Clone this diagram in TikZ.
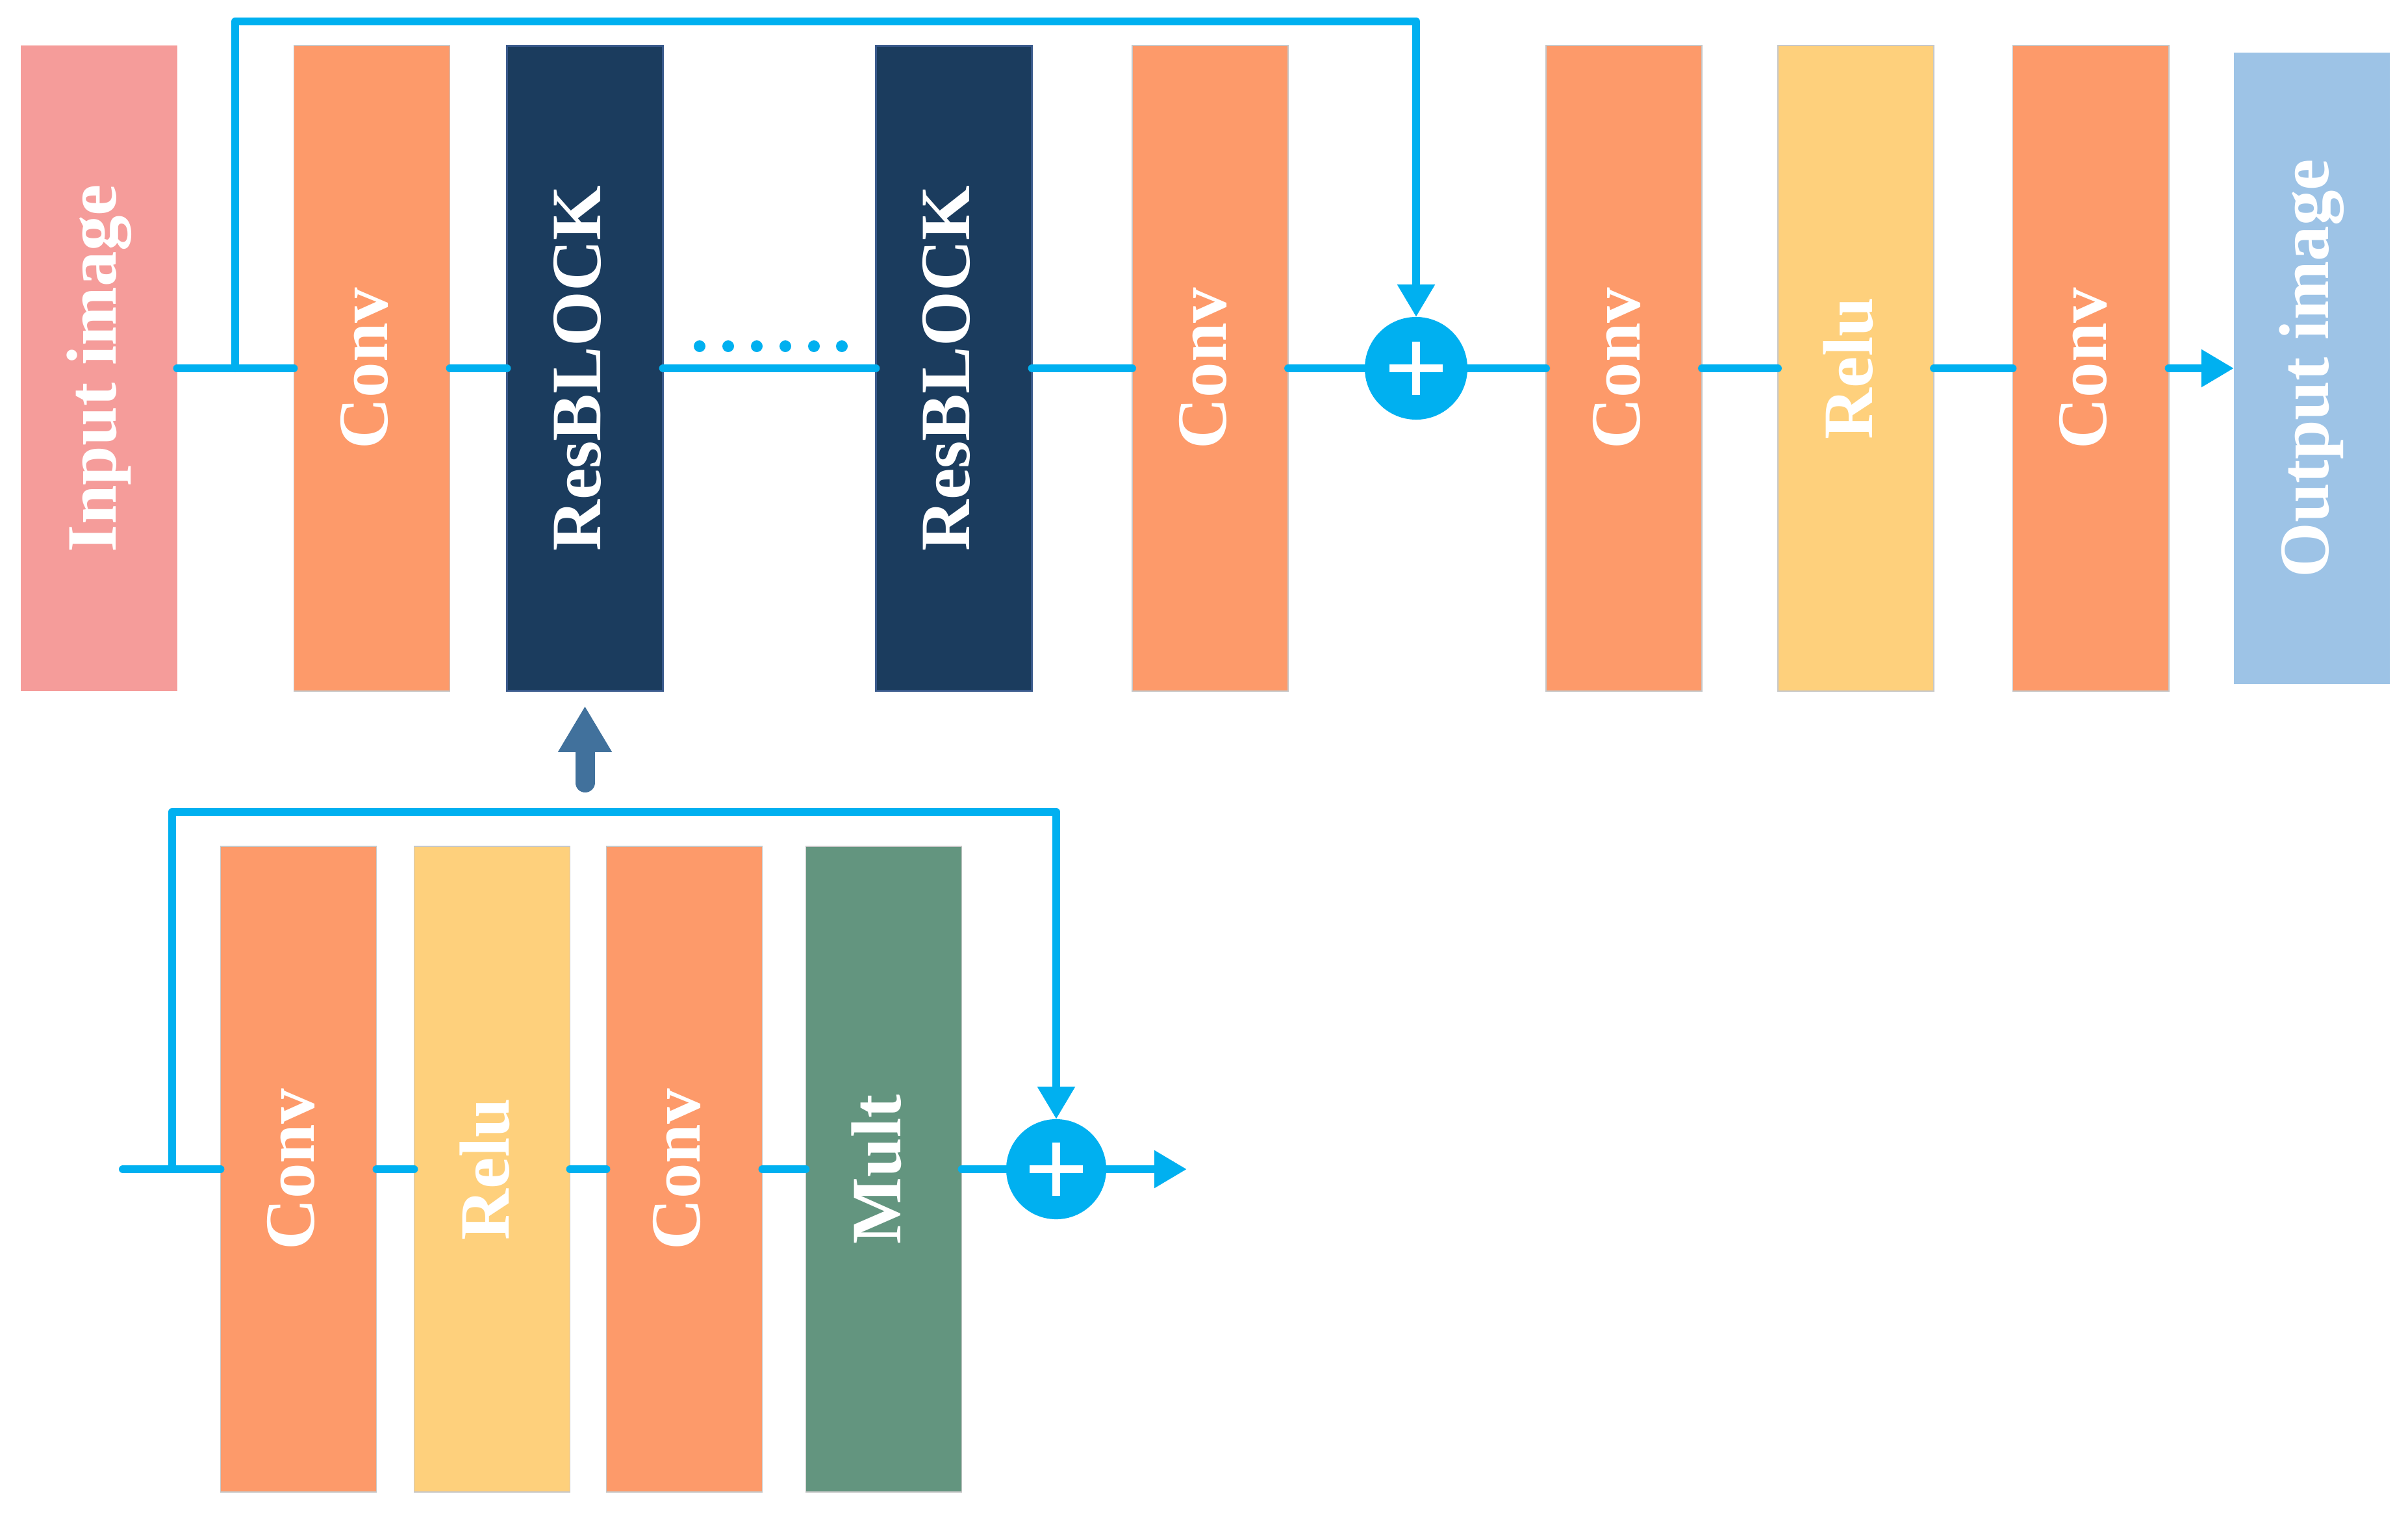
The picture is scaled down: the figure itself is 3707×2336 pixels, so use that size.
\documentclass[tikz,border=0pt]{standalone}
\usepackage{fontspec}
\setmainfont{Liberation Serif}
\usetikzlibrary{arrows.meta,calc}
\definecolor{pinkc}{HTML}{F59C9A}
\definecolor{orangec}{HTML}{FD9A6A}
\definecolor{navyc}{HTML}{1B3C5E}
\definecolor{navyedge}{HTML}{3A5A8C}
\definecolor{yellowc}{HTML}{FED07C}
\definecolor{bluec}{HTML}{9DC3E6}
\definecolor{greenc}{HTML}{63957F}
\definecolor{cyanc}{HTML}{00B0F0}
\definecolor{arrowc}{HTML}{41719C}
\newcommand{\mylbl}[1]{\rotatebox{90}{\vphantom{Ig}#1}}
\begin{document}
\begin{tikzpicture}[x=0.01cm,y=-0.01cm,
  layer/.style={rectangle, inner sep=0pt, outer sep=0pt, minimum width=2.4cm, minimum height=9.93cm,
    text=white, font=\fontsize{31}{31}\selectfont\bfseries},
  inbox/.style={layer, fill=pinkc},
  convbox/.style={layer, fill=orangec, draw=black!22, line width=0.5pt},
  resbox/.style={layer, fill=navyc, draw=navyedge, line width=0.8pt},
  relubox/.style={layer, fill=yellowc, draw=black!22, line width=0.5pt},
  multbox/.style={layer, fill=greenc, draw=black!22, line width=0.5pt},
  outbox/.style={layer, fill=bluec, minimum height=9.71cm},
  conn/.style={draw=cyanc, line width=0.12cm, line cap=round, line join=round},
  arr/.style={conn, -{Triangle[length=0.5cm,width=0.55cm]}},
  uparr/.style={draw=arrowc, line width=0.3cm, line cap=round, -{Triangle[length=0.71cm,width=0.78cm]}},
  plusnode/.style={circle, fill=cyanc, inner sep=0pt, outer sep=0pt,
    path picture={
      \draw[white, line width=0.12cm] ([xshift=-0.41cm]path picture bounding box.center) -- ([xshift=0.41cm]path picture bounding box.center);
      \draw[white, line width=0.12cm] ([yshift=-0.41cm]path picture bounding box.center) -- ([yshift=0.41cm]path picture bounding box.center);
    }},
]
\useasboundingbox (0,0) rectangle (3707,2336);

% top row
\node[inbox]   (in)  at (152.5,567) {\mylbl{Input image}};
\node[convbox] (c1)  at (572.5,567) {\mylbl{Conv}};
\node[resbox]  (rb1) at (900.5,567) {\mylbl{ResBLOCK}};
\node[resbox]  (rb2) at (1468.5,567) {\mylbl{ResBLOCK}};
\node[convbox] (c2)  at (1863,567) {\mylbl{Conv}};
\node[plusnode, minimum size=1.58cm] (p1) at (2180,567) {};
\node[convbox] (c3)  at (2500,567) {\mylbl{Conv}};
\node[relubox] (r1)  at (2857,567) {\mylbl{Relu}};
\node[convbox] (c4)  at (3218.5,567) {\mylbl{Conv}};
\node[outbox]  (out) at (3559,567) {\mylbl{Output image}};

\coordinate (s1) at (362,567);
\coordinate (t1) at (362,33);

\draw[conn] (in.east) -- (c1.west);
\draw[conn] (c1.east) -- (rb1.west);
\draw[conn] (rb1.east) -- (rb2.west);
\draw[conn] (rb2.east) -- (c2.west);
\draw[conn] (c2.east) -- (p1.west);
\draw[conn] (p1.east) -- (c3.west);
\draw[conn] (c3.east) -- (r1.west);
\draw[conn] (r1.east) -- (c4.west);
\draw[arr]  (c4.east) -- (out.west);
\draw[arr]  (s1) -- (t1) -| (p1.north);

\foreach \dx in {1077,1121,1165,1209,1253,1296}
  \fill[cyanc] (\dx,533) circle (0.09cm);

% bottom row (ResBLOCK detail)
\node[convbox] (bc1) at (459.5,1800) {\mylbl{Conv}};
\node[relubox] (br)  at (757.5,1800) {\mylbl{Relu}};
\node[convbox] (bc2) at (1053.5,1800) {\mylbl{Conv}};
\node[multbox] (bm)  at (1360.5,1800) {\mylbl{Mult}};
\node[plusnode, minimum size=1.54cm] (p2) at (1626,1800) {};

\coordinate (bin)  at (189,1800);
\coordinate (s2)   at (265,1800);
\coordinate (t2)   at (265,1250);
\coordinate (bout) at (1827,1800);

\draw[conn] (bin) -- (bc1.west);
\draw[conn] (bc1.east) -- (br.west);
\draw[conn] (br.east) -- (bc2.west);
\draw[conn] (bc2.east) -- (bm.west);
\draw[conn] (bm.east) -- (p2.west);
\draw[arr]  (p2.east) -- (bout);
\draw[arr]  (s2) -- (t2) -| (p2.north);

% up arrow
\coordinate (ua) at (900.5,1205);
\draw[uparr] (ua) -- ([yshift=-0.23cm]rb1.south);
\end{tikzpicture}
\end{document}
